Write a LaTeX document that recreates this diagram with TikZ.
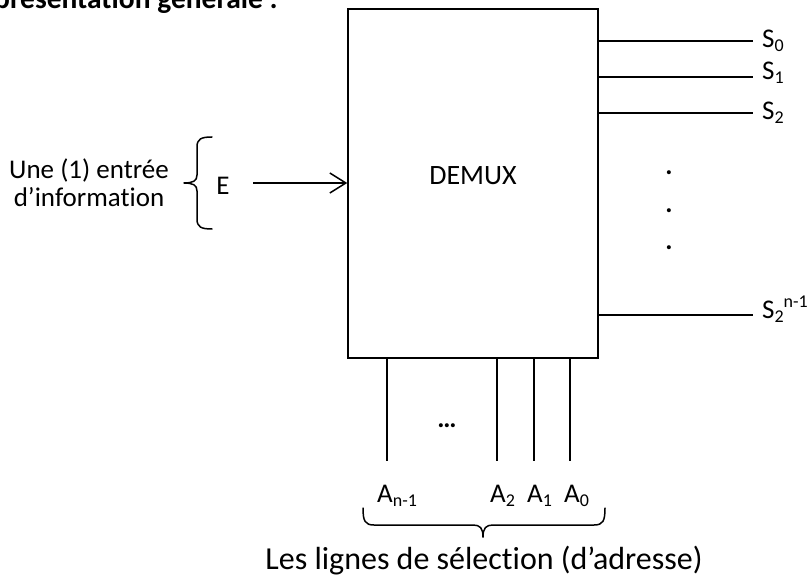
\documentclass[tikz,border=0pt]{standalone}
\usepackage{fontspec}
\setmainfont{Carlito}[Ligatures={NoCommon}]
\usetikzlibrary{arrows.meta}

% small indices set the way a word processor sets them
\newcommand\lowidx[1]{\raisebox{-4pt}{\fontsize{18}{18}\selectfont #1}}
\newcommand\highidx[1]{\raisebox{11pt}{\fontsize{18}{18}\selectfont #1}}

\tikzset{
  wire/.style={line width=1.5pt},
  blockbox/.style={draw, line width=1.5pt, minimum width=250pt, minimum height=349pt, inner sep=0pt},
  txt/.style={font=\fontsize{27}{33}\selectfont, inner sep=0pt},
  bigtxt/.style={font=\fontsize{32}{38}\selectfont, inner sep=0pt},
  headtxt/.style={font=\fontsize{29.5}{36}\selectfont\bfseries, inner sep=0pt},
  bracepath/.style={line width=1.5pt, line cap=round, line join=round},
}

\begin{document}
\begin{tikzpicture}[x=1pt, y=-1pt]
  \clip (0,0) rectangle (811,580);
  \fill[white] (0,0) rectangle (811,580);

  % section heading, partly outside the page
  \node[headtxt, anchor=base east] (heading) at (278,8.5) {Représentation générale :};

  % the demultiplexer block
  \node[blockbox] (demux) at (473,183.5) {};
  \node[txt, anchor=base, font=\fontsize{28}{34}\selectfont] (demuxname) at (473,185) {DEMUX};

  % data input
  \node[txt, anchor=base] (inA) at (89,179) {Une (1) entrée};
  \node[txt, anchor=base] (inB) at (89,207) {d’information};
  \node[txt, anchor=base] (ename) at (223,195) {E};
  \coordinate (ein) at (253,183);
  \draw[wire, -{Straight Barb[length=16pt, width=20pt, line width=1.5pt]}] (ein) -- (ein -| demux.west);

  % left brace around E
  \coordinate (lbtip) at (184,183);
  \draw[bracepath] (212,137) .. controls (201,137) and (197,139) .. (197,147)
                   -- (197,175) .. controls (197,181) and (193,183) .. (lbtip)
                   .. controls (193,183) and (197,185) .. (197,191)
                   -- (197,219) .. controls (197,227) and (201,229) .. (212,229);

  % outputs
  \coordinate (s0end) at (753,41);
  \coordinate (s1end) at (753,77);
  \coordinate (s2end) at (753,113);
  \coordinate (snend) at (753,315);
  \foreach \c in {s0end,s1end,s2end,snend}
    \draw[wire] (\c -| demux.east) -- (\c);
  \node[txt, anchor=base west] (s0) at (762,48) {S\lowidx{0}};
  \node[txt, anchor=base west] (s1) at (762,80) {S\lowidx{1}};
  \node[txt, anchor=base west] (s2) at (762,120) {S\lowidx{2}};
  \node[txt, anchor=base west] (sn) at (762,318) {S\lowidx{2}\highidx{n-1}};

  % vertical dots between the outputs
  \node[txt, anchor=base, font=\fontsize{27}{33}\selectfont\bfseries] (dotA) at (669,175) {.};
  \node[txt, anchor=base, font=\fontsize{27}{33}\selectfont\bfseries] (dotB) at (669,212) {.};
  \node[txt, anchor=base, font=\fontsize{27}{33}\selectfont\bfseries] (dotC) at (669,249) {.};

  % selection lines
  \coordinate (anend) at (387,461);
  \coordinate (a2end) at (497,461);
  \coordinate (a1end) at (534,461);
  \coordinate (a0end) at (570,461);
  \foreach \c in {anend,a2end,a1end,a0end}
    \draw[wire] (\c |- demux.south) -- (\c);
  \node[txt, anchor=base, font=\fontsize{27}{33}\selectfont\bfseries] (gap) at (447,427) {…};
  \node[txt, anchor=base west] (an) at (377,502) {A\lowidx{n-1}};
  \node[txt, anchor=base west] (a2) at (490,502) {A\lowidx{2}};
  \node[txt, anchor=base west] (a1) at (527,502) {A\lowidx{1}};
  \node[txt, anchor=base west] (a0) at (564,502) {A\lowidx{0}};

  % brace under the selection lines
  \coordinate (bbtip) at (483,537);
  \draw[bracepath] (363,508) .. controls (363,521) and (365,525) .. (374,525)
                   -- (473,525) .. controls (480,525) and (483,528) .. (bbtip);
  \draw[bracepath] (605,508) .. controls (605,521) and (603,525) .. (594,525)
                   -- (493,525) .. controls (486,525) and (483,528) .. (bbtip);
  \node[bigtxt, anchor=base] (selname) at (484,569) {Les lignes de sélection (d’adresse)};
\end{tikzpicture}
\end{document}
